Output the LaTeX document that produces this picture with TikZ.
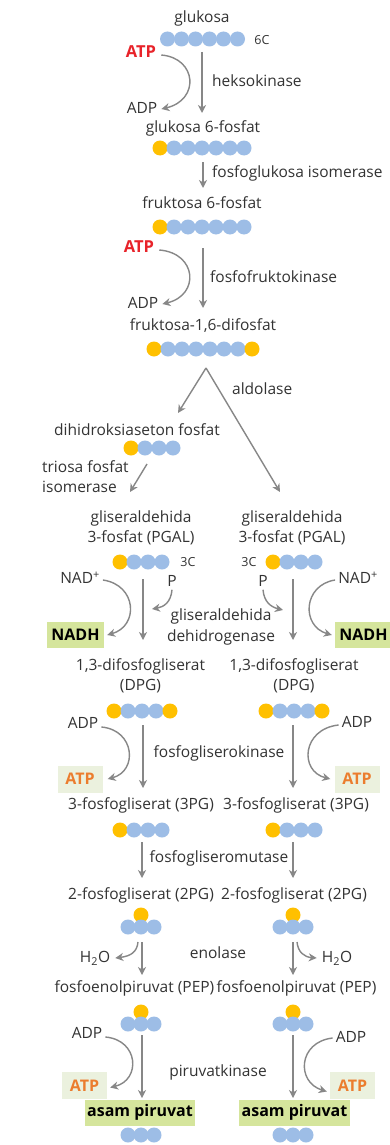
\documentclass[tikz,border=0pt]{standalone}
\usepackage{fontspec}
\setmainfont{Open Sans}
\usetikzlibrary{arrows.meta,calc}
\definecolor{cblue}{HTML}{9DBDE6}
\definecolor{cyel}{HTML}{FFC000}
\definecolor{agray}{HTML}{878787}
\definecolor{txt}{HTML}{333333}
\definecolor{cred}{HTML}{E8232A}
\definecolor{corange}{HTML}{EB7D2E}
\definecolor{gbox}{HTML}{D5E59C}
\definecolor{lbox}{HTML}{EBF1DE}
\newcommand\fs{\fontsize{15.5}{20.5}\selectfont}
\tikzset{
  lab/.style={font=\fs, text=txt, inner sep=0pt},
  labc/.style={lab, align=center},
  small/.style={font=\fontsize{12.5}{14}\selectfont, text=txt, inner sep=0pt},
  redatp/.style={font=\fontsize{16.5}{20}\selectfont\bfseries, text=cred, inner sep=0pt},
  atpbox/.style={fill=lbox, font=\fontsize{16}{20}\selectfont\bfseries, text=corange, minimum width=45pt, minimum height=27pt, inner sep=0pt},
  greenbox/.style={fill=gbox, font=\fontsize{16}{20}\selectfont\bfseries, text=black, minimum height=26pt, inner sep=0pt},
  arr/.style={draw=agray, line width=1.4pt, -{Stealth[length=8pt,width=8pt,inset=2.5pt]}},
  bdot/.style={fill=cblue},
  ydot/.style={fill=cyel},
}
\begin{document}
\begin{tikzpicture}[x=1pt,y=-1pt]
\useasboundingbox[fill=white] (0,0) rectangle (389,1145);

% ---------- molecules ----------
\foreach \i in {0,...,5} \fill[bdot] ({167.5+14*\i},39) circle[radius=7.5pt];
\foreach \r in {148,227}{
  \fill[ydot] (160,\r) circle[radius=7.5pt];
  \foreach \i in {1,...,6} \fill[bdot] ({160+14*\i},\r) circle[radius=7.5pt];
}
\fill[ydot] (154,349) circle[radius=7.5pt];
\foreach \i in {1,...,6} \fill[bdot] ({154+14*\i},349) circle[radius=7.5pt];
\fill[ydot] (252,349) circle[radius=7.5pt];
% DHAP
\fill[ydot] (131,448) circle[radius=7.5pt];
\foreach \i in {1,2,3} \fill[bdot] ({131+14*\i},448) circle[radius=7.5pt];
% PGAL and 3PG
\foreach \x/\r in {120/562,273/562,120/830,273/830}{
  \fill[ydot] (\x,\r) circle[radius=7.5pt];
  \foreach \i in {1,2,3} \fill[bdot] ({\x+14*\i},\r) circle[radius=7.5pt];
}
% DPG
\foreach \x in {114,266}{
  \fill[ydot] (\x,711) circle[radius=7.5pt];
  \foreach \i in {1,2,3} \fill[bdot] ({\x+14*\i},711) circle[radius=7.5pt];
  \fill[ydot] ({\x+56},711) circle[radius=7.5pt];
}
% 2PG, PEP
\foreach \x in {141,293}{
  \foreach \r in {927,1024}{
    \fill[ydot] (\x,\r-12) circle[radius=7.5pt];
    \foreach \i in {-1,0,1} \fill[bdot] ({\x+13*\i},\r) circle[radius=7.5pt];
  }
  \foreach \i in {-1,0,1} \fill[bdot] ({\x+13*\i},1135) circle[radius=7.5pt];
}

% ---------- labels ----------
\node[lab] (glu) at (202,18) {glukosa};
\node[small] (c6) at (262,40) {6C};
\node[redatp] (atp1) at (141,52) {ATP};
\node[lab] (adp1) at (142,108) {ADP};
\node[lab, anchor=west] (hk) at (212,81) {heksokinase};
\node[lab] (g6p) at (203,128) {glukosa 6-fosfat};
\node[lab, anchor=west] (pgi) at (212,173) {fosfoglukosa isomerase};
\node[lab] (f6p) at (202,203) {fruktosa 6-fosfat};
\node[redatp] (atp2) at (139,247) {ATP};
\node[lab] (adp2) at (143,303) {ADP};
\node[lab, anchor=west] (pfk) at (210,277) {fosfofruktokinase};
\node[lab] (fbp) at (203,326) {fruktosa-1,6-difosfat};
\node[lab, anchor=west] (ald) at (232,389) {aldolase};
\node[lab] (dhap) at (137,430) {dihidroksiaseton fosfat};
\node[lab, align=left, anchor=north west] (tpi) at (42,460) {triosa fosfat\\isomerase};
\node[labc] (pgalL) at (141,528) {gliseraldehida\\3-fosfat (PGAL)};
\node[labc] (pgalR) at (292,528) {gliseraldehida\\3-fosfat (PGAL)};
\node[small] (c3L) at (188,562) {3C};
\node[small] (c3R) at (249,562) {3C};
\node[lab] (nadL) at (80,578) {NAD\textsuperscript{+}};
\node[lab] (nadR) at (358,578) {NAD\textsuperscript{+}};
\node[lab] (pL) at (172,581) {P};
\node[lab] (pR) at (263,581) {P};
\node[greenbox, minimum width=57pt] (nadhL) at (75.5,635) {NADH};
\node[greenbox, minimum width=57pt] (nadhR) at (363.5,635) {NADH};
\node[labc] (gapdh) at (221,627) {gliseraldehida\\dehidrogenase};
\node[labc] (dpgL) at (140.5,676) {1,3-difosfogliserat\\(DPG)};
\node[labc] (dpgR) at (294,676) {1,3-difosfogliserat\\(DPG)};
\node[lab] (adp3L) at (83,723) {ADP};
\node[lab] (adp3R) at (357,722) {ADP};
\node[lab] (pgk) at (219,753) {fosfogliserokinase};
\node[atpbox] (atp3L) at (80,779) {ATP};
\node[atpbox] (atp3R) at (357,779) {ATP};
\node[lab] (pg3L) at (141,805) {3-fosfogliserat (3PG)};
\node[lab] (pg3R) at (296,805) {3-fosfogliserat (3PG)};
\node[lab] (pgm) at (219,858) {fosfogliseromutase};
\node[lab] (pg2L) at (141,895) {2-fosfogliserat (2PG)};
\node[lab] (pg2R) at (294,895) {2-fosfogliserat (2PG)};
\node[lab] (h2oL) at (95,958) {H\textsubscript{2}O};
\node[lab] (h2oR) at (337,958) {H\textsubscript{2}O};
\node[lab] (eno) at (218,953) {enolase};
\node[lab, anchor=east] (pepL) at (214.5,988) {fosfoenolpiruvat (PEP)};
\node[lab, anchor=west] (pepR) at (216.5,988) {fosfoenolpiruvat (PEP)};
\node[lab] (adp4L) at (87,1033) {ADP};
\node[lab] (adp4R) at (351,1037) {ADP};
\node[lab] (pk) at (218,1072) {piruvatkinase};
\node[atpbox] (atp4L) at (84.5,1085.5) {ATP};
\node[atpbox] (atp4R) at (352.5,1085.5) {ATP};
\node[greenbox, minimum width=110pt] (pyrL) at (140,1112.5) {asam piruvat};
\node[greenbox, minimum width=111pt] (pyrR) at (294.5,1112.5) {asam piruvat};

% ---------- connector end points ----------
\coordinate (m1a) at (202,52);   \coordinate (m1b) at (202,113);
\coordinate (m2a) at (203,162);  \coordinate (m2b) at (203,188);
\coordinate (m3a) at (203,248);  \coordinate (m3b) at (203,308);
\coordinate (apex) at (206,368); \coordinate (aldL) at (178,413); \coordinate (aldR) at (280,492);
\coordinate (tpa) at (147,464);  \coordinate (tpb) at (130,492);
\coordinate (m4La) at (143,579); \coordinate (m4Lb) at (143,640);
\coordinate (m4Ra) at (293,579); \coordinate (m4Rb) at (293,640);
\coordinate (m5La) at (143,725); \coordinate (m5Lb) at (143,788);
\coordinate (m5Ra) at (293,725); \coordinate (m5Rb) at (293,788);
\coordinate (m6La) at (142,842); \coordinate (m6Lb) at (142,878);
\coordinate (m6Ra) at (293,842); \coordinate (m6Rb) at (293,878);
\coordinate (m7La) at (142,942); \coordinate (m7Lb) at (142,975);
\coordinate (m7Ra) at (293,942); \coordinate (m7Rb) at (293,975);
\coordinate (m8La) at (142,1035); \coordinate (m8Lb) at (142,1098);
\coordinate (m8Ra) at (293,1035); \coordinate (m8Rb) at (293,1098);
\coordinate (h2oLs) at (138,942); \coordinate (h2oRs) at (297,942);
\coordinate (pLe) at (152,609); \coordinate (pRe) at (283,610);

% ---------- connectors ----------
\draw[arr] (m1a) -- (m1b);
\draw[arr] ($(atp1.east)+(5,3)$) .. controls (197,58) and (200,100) .. ($(adp1.east)+(4,1)$);
\draw[arr] (m2a) -- (m2b);
\draw[arr] (m3a) -- (m3b);
\draw[arr] ($(atp2.east)+(5,3)$) .. controls (197,253) and (200,295) .. ($(adp2.east)+(4,1)$);
\draw[arr] (apex) -- (aldL);
\draw[arr] (apex) -- (aldR);
\draw[arr] (tpa) -- (tpb);
\draw[arr] (m4La) -- (m4Lb);
\draw[arr] (m4Ra) -- (m4Rb);
\draw[arr] ($(nadL.east)+(3,2)$) .. controls (137,585) and (139,626) .. ($(nadhL.east)+(3,0)$);
\draw[arr] ($(nadR.west)+(-3,2)$) .. controls (303,585) and (301,626) .. ($(nadhR.west)+(-3,0)$);
\draw[arr] ($(pL.south)+(0,3)$) .. controls (171,602) and (164,607) .. (pLe);
\draw[arr] ($(pR.south)+(0,3)$) .. controls (264,602) and (271,607) .. (pRe);
\draw[arr] (m5La) -- (m5Lb);
\draw[arr] (m5Ra) -- (m5Rb);
\draw[arr] ($(adp3L.east)+(3,4)$) .. controls (135,730) and (138,771) .. ($(atp3L.east)+(5,0)$);
\draw[arr] ($(adp3R.west)+(-3,3)$) .. controls (302,729) and (299,771) .. ($(atp3R.west)+(-4,0)$);
\draw[arr] (m6La) -- (m6Lb);
\draw[arr] (m6Ra) -- (m6Rb);
\draw[arr] (m7La) -- (m7Lb);
\draw[arr] (m7Ra) -- (m7Rb);
\draw[arr] (h2oLs) .. controls (137,952) and (131,956) .. ($(h2oL.east)+(5,0)$);
\draw[arr] (h2oRs) .. controls (298,952) and (304,957) .. ($(h2oR.west)+(-5,0)$);
\draw[arr] (m8La) -- (m8Lb);
\draw[arr] (m8Ra) -- (m8Rb);
\draw[arr] ($(adp4L.east)+(3,4)$) .. controls (139,1040) and (141,1080) .. ($(atp4L.east)+(3,2)$);
\draw[arr] ($(adp4R.west)+(-3,1)$) .. controls (298,1042) and (296,1082) .. ($(atp4R.west)+(-3,6)$);
\end{tikzpicture}
\end{document}
